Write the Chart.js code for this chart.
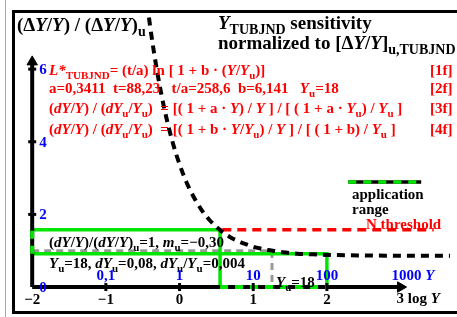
<!DOCTYPE html>
<html>
<head>
<meta charset="utf-8">
<script src="https://cdn.jsdelivr.net/npm/chart.js@4.4.1/dist/chart.umd.min.js"></script>
<style>
  body { margin: 0; background: #fff; }
  canvas { display: block; }
</style>
</head>
<body>
<canvas id="sensChart" width="457" height="317"></canvas>
<script>
// log Y positions and normalized sensitivity
const logY = [-0.415, -0.4, -0.35, -0.3, -0.25, -0.2, -0.1, 0, 0.1, 0.2, 0.3, 0.4, 0.5, 0.6, 0.7, 0.8, 0.9, 1.0, 1.1, 1.2, 1.3, 1.4, 1.6, 1.8, 2.0, 2.5, 3.0, 3.7];
const ratio = [7.42, 7.19, 6.50, 5.89, 5.34, 4.85, 4.03, 3.38, 2.86, 2.45, 2.12, 1.86, 1.66, 1.49, 1.36, 1.26, 1.18, 1.11, 1.06, 1.02, 0.99, 0.96, 0.92, 0.90, 0.885, 0.87, 0.862, 0.86];

// tick values and labels
const yTicks = [0, 2, 4, 6];
const xTicks = [-2, -1, 0, 1, 2, 3];
const xTickLabels = ['\u22122', '\u22121', '0', '1', '2', '3'];
const lumTicks = [-1, 0, 1, 2];
const lumLabels = ['0,1', '1', '10', '100'];

// reference lines
const logYu = 1.255;          // log 18
const threshold = 1.58;       // N threshold level
const rangeStart = 0.55;      // application range in log Y
const rangeEnd = 2;
const rangeLow = 0.92;

const pts = (xs, ys) => xs.map((x, i) => ({ x: x, y: ys[i] }));

const GREEN = '#00e600';
const SERIF = '"Liberation Serif", "DejaVu Serif", serif';

// draw a line of text made of parts: [text, flags] (i = italic, s = subscript)
function drawRich(ctx, x, y, parts, size, color, align) {
    const fontFor = (f) => (f.includes('i') ? 'italic ' : '') + 'bold ' +
        (f.includes('s') ? Math.round(size * 0.72) : size) + 'px ' + SERIF;
    let total = 0;
    parts.forEach(p => { ctx.font = fontFor(p[1] || ''); total += ctx.measureText(p[0]).width; });
    let cx = x;
    if (align === 'center') cx = x - total / 2;
    ctx.fillStyle = color;
    ctx.textAlign = 'left';
    ctx.textBaseline = 'alphabetic';
    parts.forEach(p => {
        const f = p[1] || '';
        ctx.font = fontFor(f);
        ctx.fillText(p[0], cx, f.includes('s') ? y + size * 0.25 : y);
        cx += ctx.measureText(p[0]).width;
    });
}

const framePlugin = {
    id: 'frame',
    beforeDatasetsDraw(chart) {
        const ctx = chart.ctx;
        ctx.save();
        ctx.strokeStyle = '#aaa';
        ctx.lineWidth = 1;
        ctx.beginPath();
        ctx.moveTo(5.5, 0); ctx.lineTo(5.5, 317);
        ctx.stroke();
        ctx.strokeStyle = '#000';
        ctx.lineWidth = 3;
        ctx.strokeRect(13.5, 11.5, 460, 301);
        ctx.restore();
    }
};

const textPlugin = {
    id: 'texts',
    afterDatasetsDraw(chart) {
        const ctx = chart.ctx;
        const xs = chart.scales.x, ys = chart.scales.y;
        ctx.save();
        const I = 'i', S = 's';

        drawRich(ctx, 17, 31, [['(\u0394'], ['Y', I], ['/'], ['Y', I], [') / (\u0394'], ['Y', I], ['/'], ['Y', I], [')'], ['u', S]], 19, '#000');
        drawRich(ctx, 218, 29, [['Y', I], ['TUBJND', S], [' sensitivity']], 19, '#000');
        drawRich(ctx, 218, 49, [['normalized to [\u0394'], ['Y', I], ['/'], ['Y', I], [']'], ['u,TUBJND', S]], 19, '#000');

        const red = '#ff0000';
        const redY = [75, 93, 113, 134];
        drawRich(ctx, 49, redY[0], [['L*', I], ['TUBJND', S], ['= (t/a) ln [ 1 + b \u00b7 ('], ['Y', I], ['/'], ['Y', I], ['u', S], [')]']], 15, red);
        drawRich(ctx, 49, redY[1], [['a=0,3411  t=88,23   t/a=258,6  b=6,141   '], ['Y', I], ['u', S], ['=18']], 15, red);
        drawRich(ctx, 49, redY[2], [['('], ['dY', I], ['/'], ['Y', I], [') / ('], ['dY', I], ['u', S], ['/'], ['Y', I], ['u', S], [')  = [( 1 + a \u00b7 '], ['Y', I], [') / '], ['Y', I], [' ] / [ ( 1 + a \u00b7 '], ['Y', I], ['u', S], [') / '], ['Y', I], ['u', S], [' ]']], 15, red);
        drawRich(ctx, 49, redY[3], [['('], ['dY', I], ['/'], ['Y', I], [') / ('], ['dY', I], ['u', S], ['/'], ['Y', I], ['u', S], [')  = [( 1 + b \u00b7 '], ['Y', I], ['/'], ['Y', I], ['u', S], [') / '], ['Y', I], [' ] / [ ( 1 + b) / '], ['Y', I], ['u', S], [' ]']], 15, red);
        ['[1f]', '[2f]', '[3f]', '[4f]'].forEach((t, i) => drawRich(ctx, 430, redY[i], [[t]], 15, red));

        drawRich(ctx, 49, 247, [['('], ['dY', I], ['/'], ['Y', I], [')/('], ['dY', I], ['/'], ['Y', I], [')'], ['u', S], ['=1, '], ['m', I], ['u', S], ['=\u22120,30']], 15, '#000');
        drawRich(ctx, 49, 268, [['Y', I], ['u', S], ['=18, '], ['dY', I], ['u', S], ['=0,08, '], ['dY', I], ['u', S], ['/'], ['Y', I], ['u', S], ['=0,004']], 15, '#000');
        drawRich(ctx, xs.getPixelForValue(logYu) + 4, 287, [['Y', I], ['u', S], ['=18']], 15, '#000');

        drawRich(ctx, 352, 199, [['application']], 15, '#000');
        drawRich(ctx, 352, 214, [['range']], 15, '#000');
        drawRich(ctx, 366, 229, [['N threshold']], 15, red);

        // tick labels
        const blue = '#0000ff';
        const x0 = xs.getPixelForValue(-2);
        yTicks.forEach(v => drawRich(ctx, x0 + 7, ys.getPixelForValue(v) + 5, [[String(v)]], 15, blue));
        const yBase = ys.getPixelForValue(0);
        lumTicks.forEach((v, i) => drawRich(ctx, xs.getPixelForValue(v), yBase - 7, [[lumLabels[i]]], 15, blue, 'center'));
        drawRich(ctx, xs.getPixelForValue(3) - 9, yBase - 7, [['1000 '], ['Y', I]], 15, blue);
        xTicks.forEach((v, i) => {
            if (v === 3) {
                drawRich(ctx, xs.getPixelForValue(v) - 4, yBase + 16, [['3 log '], ['Y', I]], 15, '#000');
            } else {
                drawRich(ctx, xs.getPixelForValue(v), yBase + 17, [[xTickLabels[i]]], 15, '#000', 'center');
            }
        });
        ctx.restore();
    }
};

const line = (data, color, width, dash, order, extra) => Object.assign({
    data: data, showLine: true, borderColor: color, backgroundColor: color,
    borderWidth: width, borderDash: dash || [], pointRadius: 0, fill: false, order: order
}, extra || {});

new Chart(document.getElementById('sensChart'), {
    type: 'scatter',
    data: {
        datasets: [
            // arrows
            { data: [{ x: -2, y: 6.2 }], pointStyle: 'triangle', pointRadius: 6, rotation: 0,
              backgroundColor: '#000', borderColor: '#000', borderWidth: 1, order: 1 },
            { data: [{ x: 3.0, y: 0 }], pointStyle: 'triangle', pointRadius: 6, rotation: 90,
              backgroundColor: '#000', borderColor: '#000', borderWidth: 1, order: 1 },
            // ticks
            { data: yTicks.slice(1).map(v => ({ x: -2, y: v })), pointStyle: 'line', pointRadius: 4,
              rotation: 0, borderColor: '#000', borderWidth: 3, order: 2 },
            { data: lumTicks.map(v => ({ x: v, y: 0 })), pointStyle: 'line', pointRadius: 4,
              rotation: 90, borderColor: '#000', borderWidth: 3, order: 2 },
            // sensitivity curve
            line(pts(logY, ratio), '#000', 4, [8, 6], 3, { cubicInterpolationMode: 'monotone' }),
            // N threshold
            line([{ x: 0.58, y: threshold }, { x: 3.45, y: threshold }], '#ff0000', 3.5, [9, 6], 4),
            // legend sample line
            line([{ x: 2.29, y: 2.895 }, { x: 3.28, y: 2.895 }], GREEN, 3.5, [8, 7], 5),
            line([{ x: 2.29, y: 2.895 }, { x: 3.28, y: 2.895 }], '#000', 3.5, [], 6),
            // application range on the axes
            line([{ x: rangeStart, y: 0 }, { x: rangeEnd, y: 0 }], GREEN, 4, [8, 7], 5),
            line([{ x: -2, y: rangeLow }, { x: -2, y: threshold }], GREEN, 4, [8, 7], 5),
            // axes
            line([{ x: -2, y: 0 }, { x: -2, y: 6.2 }], '#000', 4, [], 7),
            line([{ x: -2, y: 0 }, { x: 3.0, y: 0 }], '#000', 4, [], 7),
            // application range box
            line([{ x: rangeStart, y: 0 }, { x: rangeStart, y: threshold }, { x: -2, y: threshold },
                  { x: -2, y: rangeLow }, { x: rangeEnd, y: rangeLow }, { x: rangeEnd, y: 0 }], GREEN, 3.5, [], 8),
            // Yu reference
            line([{ x: -2, y: 1 }, { x: logYu, y: 1 }, { x: logYu, y: 0 }], '#999', 3, [7, 5], 9)
        ]
    },
    options: {
        responsive: false,
        animation: false,
        devicePixelRatio: 1,
        layout: { padding: 0 },
        plugins: { legend: { display: false }, tooltip: { enabled: false } },
        scales: {
            x: { type: 'linear', display: false, min: -2.342, max: 3.671 },
            y: { type: 'linear', display: false, min: -0.632, max: 7.711 }
        }
    },
    plugins: [framePlugin, textPlugin]
});
</script>
</body>
</html>
